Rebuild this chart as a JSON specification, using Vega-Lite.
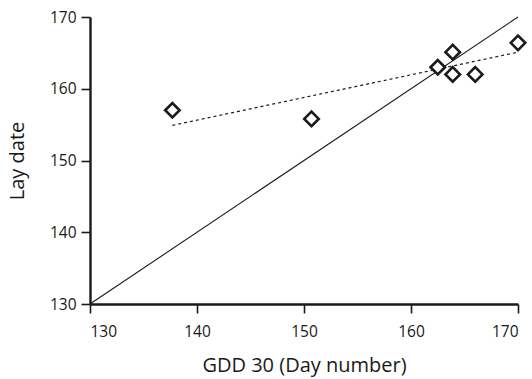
{
  "$schema": "https://vega.github.io/schema/vega-lite/v6.json",
  "width": 428,
  "height": 287,
  "autosize": "none",
  "padding": {"left": 90, "top": 17, "right": 14, "bottom": 75},
  "background": "white",
  "config": {
    "view": {"stroke": null},
    "font": "Open Sans",
    "axis": {
      "grid": false,
      "domainColor": "#1a1a1a",
      "domainWidth": 2.4,
      "tickColor": "#1a1a1a",
      "tickWidth": 1.6,
      "tickSize": 9,
      "labelFontSize": 15.5,
      "labelColor": "#1a1a1a",
      "titleFontSize": 20,
      "titleFontWeight": "normal",
      "titleColor": "#1a1a1a"
    }
  },
  "datasets": {
    "pts": [
      {"gdd": 137.7, "lay": 157.0},
      {"gdd": 150.7, "lay": 155.8},
      {"gdd": 162.5, "lay": 163.0},
      {"gdd": 163.9, "lay": 165.1},
      {"gdd": 163.9, "lay": 162.0},
      {"gdd": 166.0, "lay": 162.0},
      {"gdd": 170.0, "lay": 166.4}
    ],
    "oneone": [
      {"gdd": 130, "lay": 130},
      {"gdd": 170, "lay": 170}
    ],
    "fit": [
      {"gdd": 137.7, "lay": 154.9},
      {"gdd": 170, "lay": 165.1}
    ]
  },
  "layer": [
    {
      "data": {"name": "oneone"},
      "mark": {"type": "line", "color": "#1a1a1a", "strokeWidth": 1.1},
      "encoding": {
        "x": {"field": "gdd", "type": "quantitative", "scale": {"domain": [130, 170], "nice": false, "zero": false},
          "axis": {"values": [130, 140, 150, 160, 170], "title": "GDD 30 (Day number)", "labelPadding": 11, "titlePadding": 16}},
        "y": {"field": "lay", "type": "quantitative", "scale": {"domain": [130, 170], "nice": false, "zero": false},
          "axis": {"values": [130, 140, 150, 160, 170], "title": "Lay date", "labelPadding": 5, "titlePadding": 22}}
      }
    },
    {
      "data": {"name": "fit"},
      "mark": {"type": "line", "color": "#1a1a1a", "strokeWidth": 1.2, "strokeDash": [3, 3]},
      "encoding": {
        "x": {"field": "gdd", "type": "quantitative"},
        "y": {"field": "lay", "type": "quantitative"}
      }
    },
    {
      "data": {"name": "pts"},
      "mark": {"type": "point", "shape": "diamond", "size": 210, "filled": false, "fill": "white", "fillOpacity": 1, "stroke": "#1a1a1a", "strokeWidth": 2.6, "opacity": 1},
      "encoding": {
        "x": {"field": "gdd", "type": "quantitative"},
        "y": {"field": "lay", "type": "quantitative"}
      }
    }
  ]
}
